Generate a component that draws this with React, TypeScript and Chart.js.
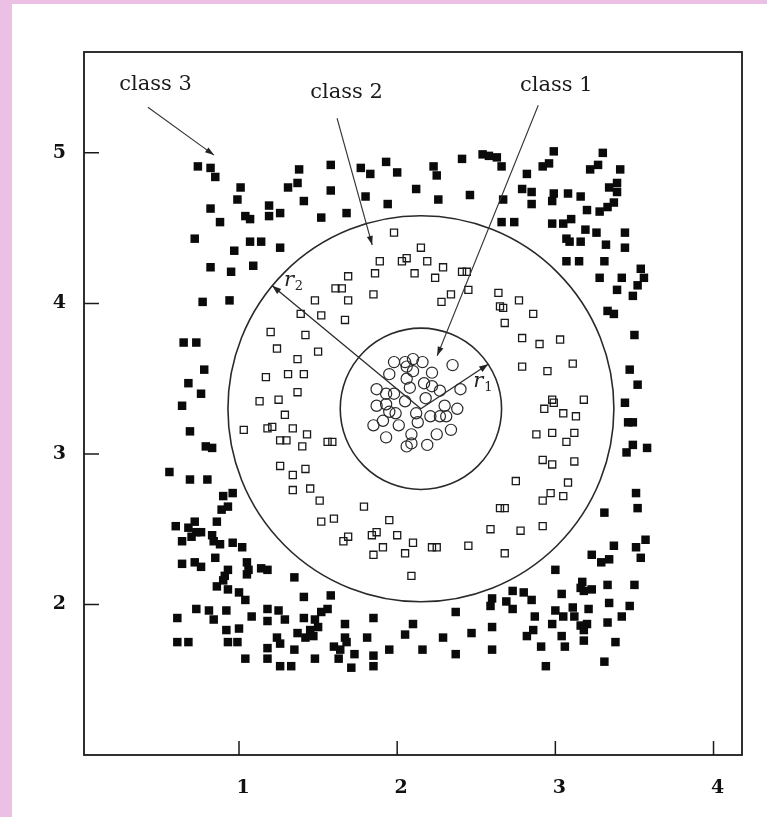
import React, { useEffect, useRef } from "react";
import { Chart, registerables } from "chart.js";

Chart.register(...registerables);

// ---------- data ----------
const xTickValues = [1, 2, 3, 4];
const yTickValues = [2, 3, 4, 5];

// class 1: open circles inside the inner ring
const class1: [number, number][] = [
  [1.98, 3.61], [2.06, 3.58], [2.10, 3.63], [2.16, 3.61], [2.05, 3.61], [2.10, 3.55], [2.35, 3.59],
  [1.95, 3.53], [2.22, 3.54], [2.06, 3.50], [2.17, 3.47], [2.22, 3.45], [2.08, 3.44], [1.87, 3.43],
  [1.93, 3.40], [1.98, 3.40], [2.27, 3.42], [2.40, 3.43], [2.18, 3.37], [2.05, 3.35], [1.87, 3.32],
  [1.93, 3.33], [2.30, 3.32], [2.38, 3.30], [1.95, 3.28], [1.99, 3.27], [2.12, 3.27], [2.21, 3.25],
  [2.27, 3.25], [2.31, 3.25], [1.85, 3.19], [1.91, 3.22], [2.01, 3.19], [2.13, 3.21], [2.34, 3.16],
  [2.25, 3.13], [1.93, 3.11], [2.09, 3.13], [2.09, 3.07], [2.06, 3.05], [2.19, 3.06],
];

// class 2: open squares in the annulus
const class2: [number, number][] = [
  [1.98, 4.47], [2.15, 4.37], [1.89, 4.28], [2.03, 4.28], [2.06, 4.30], [2.19, 4.28], [2.29, 4.24],
  [1.86, 4.20], [2.11, 4.20], [2.24, 4.17], [2.41, 4.21], [2.44, 4.21], [1.69, 4.18], [1.61, 4.10],
  [1.65, 4.10], [1.48, 4.02], [1.69, 4.02], [1.85, 4.06], [1.52, 3.92], [1.67, 3.89], [2.34, 4.06],
  [2.28, 4.01], [2.45, 4.09], [2.64, 4.07], [2.77, 4.02], [2.65, 3.98], [2.67, 3.97], [2.68, 3.87],
  [2.79, 3.77], [2.79, 3.58], [1.42, 3.79], [1.50, 3.68], [1.41, 3.53], [1.43, 3.13], [1.40, 3.05],
  [1.56, 3.08], [1.59, 3.08], [1.42, 2.90], [1.45, 2.77], [1.51, 2.69], [1.52, 2.55], [1.60, 2.57],
  [1.79, 2.65], [1.95, 2.56], [2.75, 2.82], [2.65, 2.64], [2.68, 2.64], [1.37, 3.41],
  [2.86, 3.93], [2.90, 3.73], [3.03, 3.76], [2.95, 3.55], [3.11, 3.60], [2.98, 3.36], [2.99, 3.34],
  [2.93, 3.30], [3.18, 3.36], [3.05, 3.27], [3.13, 3.25], [2.88, 3.13], [2.98, 3.14], [3.12, 3.14],
  [3.07, 3.08], [2.92, 2.96], [2.98, 2.93], [3.12, 2.95], [3.08, 2.81], [2.97, 2.74], [2.92, 2.69],
  [3.05, 2.72], [2.78, 2.49], [2.92, 2.52],
  [1.66, 2.42], [1.69, 2.45], [1.84, 2.46], [1.87, 2.48], [2.00, 2.46], [1.91, 2.38], [2.10, 2.41],
  [1.85, 2.33], [2.05, 2.34], [2.22, 2.38], [2.25, 2.38], [2.09, 2.19], [2.45, 2.39], [2.59, 2.50],
  [2.68, 2.34],
  [1.39, 3.93], [1.20, 3.81], [1.24, 3.70], [1.37, 3.63], [1.17, 3.51], [1.31, 3.53], [1.13, 3.35],
  [1.25, 3.36], [1.29, 3.26], [1.03, 3.16], [1.18, 3.17], [1.21, 3.18], [1.34, 3.17], [1.26, 3.09],
  [1.30, 3.09], [1.26, 2.92], [1.34, 2.86], [1.34, 2.76],
];

// class 3: filled squares outside the outer ring
const class3: [number, number][] = [
  [0.74, 4.91], [0.82, 4.90], [0.85, 4.84], [1.01, 4.77], [0.99, 4.69], [0.82, 4.63], [0.88, 4.54],
  [1.04, 4.58], [1.07, 4.56], [1.19, 4.65], [1.19, 4.58], [1.26, 4.60], [1.38, 4.89], [1.31, 4.77],
  [1.37, 4.80], [1.41, 4.68], [0.72, 4.43], [1.07, 4.41], [1.14, 4.41], [0.97, 4.35], [1.26, 4.37],
  [0.82, 4.24], [0.95, 4.21], [1.09, 4.25],
  [1.58, 4.92], [1.58, 4.75], [1.52, 4.57], [1.68, 4.60], [1.77, 4.90], [1.83, 4.86], [1.93, 4.94],
  [2.00, 4.87], [1.80, 4.71], [1.94, 4.66], [2.12, 4.76], [2.23, 4.91], [2.25, 4.85], [2.26, 4.69],
  [2.41, 4.96], [2.46, 4.72], [2.54, 4.99], [2.58, 4.98], [2.63, 4.97], [2.66, 4.91], [2.67, 4.69],
  [2.66, 4.54], [2.74, 4.54],
  [2.99, 5.01], [2.96, 4.93], [2.92, 4.91], [2.82, 4.86], [3.30, 5.00], [3.27, 4.92], [3.22, 4.89],
  [3.41, 4.89], [2.79, 4.76], [2.85, 4.74], [2.85, 4.66], [2.99, 4.73], [2.98, 4.68], [3.08, 4.73],
  [3.16, 4.71], [3.34, 4.77], [3.39, 4.80], [3.39, 4.74], [3.20, 4.62], [3.28, 4.61], [3.33, 4.64],
  [3.37, 4.67], [2.98, 4.53], [3.05, 4.53], [3.10, 4.56], [3.19, 4.49], [3.26, 4.47], [3.44, 4.47],
  [3.07, 4.43], [3.09, 4.41], [3.16, 4.41], [3.32, 4.39], [3.44, 4.37], [3.07, 4.28], [3.15, 4.28],
  [3.31, 4.28], [3.28, 4.17], [3.42, 4.17], [3.54, 4.23], [3.56, 4.17], [3.52, 4.12], [3.39, 4.09],
  [3.49, 4.05], [3.33, 3.95], [3.37, 3.93], [3.50, 3.79], [3.47, 3.56], [3.52, 3.46], [3.44, 3.34],
  [3.46, 3.21], [3.49, 3.21], [3.49, 3.06], [3.45, 3.01], [3.58, 3.04], [3.51, 2.74], [3.52, 2.64],
  [3.31, 2.61],
  [3.57, 2.43], [3.51, 2.38], [3.54, 2.31], [3.37, 2.39], [3.23, 2.33], [3.29, 2.28], [3.34, 2.30],
  [3.00, 2.23], [3.50, 2.13], [3.33, 2.13], [3.17, 2.15], [3.16, 2.11], [3.18, 2.09], [3.23, 2.10],
  [2.73, 2.09], [2.80, 2.08], [2.85, 2.03], [3.04, 2.07], [2.73, 1.97], [3.00, 1.96], [3.11, 1.98],
  [3.12, 1.92], [3.21, 1.97], [3.34, 2.01], [3.47, 1.99], [3.42, 1.92], [2.87, 1.92], [3.05, 1.92],
  [2.98, 1.87], [3.16, 1.86], [3.20, 1.87], [3.18, 1.83], [3.33, 1.88], [2.86, 1.83], [2.82, 1.79],
  [3.04, 1.79], [3.06, 1.72], [3.18, 1.76], [2.91, 1.72], [3.38, 1.75], [3.31, 1.62], [2.94, 1.59],
  [1.41, 2.05], [1.58, 2.06], [1.56, 1.97], [1.52, 1.95], [1.41, 1.91], [1.48, 1.90], [1.50, 1.85],
  [1.45, 1.83], [1.42, 1.78], [1.47, 1.79], [1.67, 1.87], [1.85, 1.91], [2.10, 1.87], [2.05, 1.80],
  [1.81, 1.78], [1.67, 1.78], [1.68, 1.75], [1.60, 1.72], [1.64, 1.70], [1.73, 1.67], [1.63, 1.64],
  [1.48, 1.64], [1.71, 1.58], [1.85, 1.66], [1.85, 1.59], [1.95, 1.70], [2.16, 1.70], [2.29, 1.78],
  [2.37, 1.95], [2.47, 1.81], [2.37, 1.67], [2.60, 2.04], [2.59, 1.99], [2.69, 2.02], [2.60, 1.85],
  [2.60, 1.70],
  [0.60, 2.52], [0.68, 2.51], [0.72, 2.55], [0.73, 2.48], [0.70, 2.45], [0.76, 2.48], [0.86, 2.55],
  [0.83, 2.46], [0.84, 2.42], [0.88, 2.40], [0.64, 2.42], [0.96, 2.41], [1.02, 2.38], [0.85, 2.31],
  [0.64, 2.27], [0.72, 2.28], [0.76, 2.25], [0.93, 2.23], [0.91, 2.19], [0.90, 2.16], [1.05, 2.28],
  [1.05, 2.20], [1.06, 2.23], [1.14, 2.24], [1.18, 2.23], [1.35, 2.18], [0.86, 2.12], [0.93, 2.10],
  [1.00, 2.08], [1.04, 2.03], [0.73, 1.97], [0.61, 1.91], [0.81, 1.96], [0.84, 1.90], [0.92, 1.96],
  [1.08, 1.92], [1.18, 1.97], [1.25, 1.96], [1.29, 1.90], [1.18, 1.89], [0.92, 1.83], [1.00, 1.84],
  [0.61, 1.75], [0.68, 1.75], [0.93, 1.75], [0.99, 1.75], [1.24, 1.78], [1.26, 1.74], [1.18, 1.71],
  [1.35, 1.70], [1.37, 1.81], [1.04, 1.64], [1.18, 1.64], [1.26, 1.59], [1.33, 1.59],
  [0.77, 4.01], [0.94, 4.02], [0.65, 3.74], [0.73, 3.74], [0.78, 3.56], [0.68, 3.47], [0.76, 3.40],
  [0.64, 3.32], [0.69, 3.15], [0.79, 3.05], [0.83, 3.04], [0.56, 2.88], [0.69, 2.83], [0.80, 2.83],
  [0.90, 2.72], [0.96, 2.74], [0.93, 2.65], [0.89, 2.63],
];

// rings (centre and radii in x-axis units)
const ringCenter: [number, number] = [2.15, 3.3];
const innerRadius = 0.51;
const outerRadius = 1.22;

// radius arrows: angle in degrees (counter-clockwise from +x), label anchor in data units
const radiusMarks = [
  { sub: "2", radius: outerRadius, angle: 140.4, label: [1.316, 4.149] as [number, number] },
  { sub: "1", radius: innerRadius, angle: 33.5, label: [2.513, 3.479] as [number, number] },
];

const classLabels = [
  { text: "class 3", at: [0.472, 5.456] as [number, number] },
  { text: "class 2", at: [1.68, 5.402] as [number, number] },
  { text: "class 1", at: [3.006, 5.449] as [number, number] },
];

const classArrows: { from: [number, number]; to: [number, number] }[] = [
  { from: [0.424, 5.303], to: [0.842, 4.985] },
  { from: [1.62, 5.23], to: [1.842, 4.388] },
  { from: [2.892, 5.316], to: [2.253, 3.652] },
];

// ---------- drawing helpers ----------
function arrowLine(ctx: CanvasRenderingContext2D, x1: number, y1: number, x2: number, y2: number, head = 9, hw = 3.2) {
  ctx.beginPath();
  ctx.moveTo(x1, y1);
  ctx.lineTo(x2, y2);
  ctx.stroke();
  const a = Math.atan2(y2 - y1, x2 - x1);
  const bx = x2 - head * Math.cos(a);
  const by = y2 - head * Math.sin(a);
  ctx.beginPath();
  ctx.moveTo(x2, y2);
  ctx.lineTo(bx + hw * Math.sin(a), by - hw * Math.cos(a));
  ctx.lineTo(bx - hw * Math.sin(a), by + hw * Math.cos(a));
  ctx.closePath();
  ctx.fill();
}

const annotationPlugin = {
  id: "figureAnnotations",
  afterDatasetsDraw(chart: any) {
    const { ctx, chartArea, scales } = chart;
    const xs = scales.x;
    const ys = scales.y;
    const px = (x: number) => xs.getPixelForValue(x);
    const py = (y: number) => ys.getPixelForValue(y);
    const cx = px(ringCenter[0]);
    const cy = py(ringCenter[1]);
    const rPix = (r: number) => Math.abs(px(ringCenter[0] + r) - cx);

    ctx.save();
    // rings
    ctx.strokeStyle = "#2a2a2a";
    ctx.lineWidth = 1.6;
    [innerRadius, outerRadius].forEach((r) => {
      ctx.beginPath();
      ctx.arc(cx, cy, rPix(r), 0, Math.PI * 2);
      ctx.stroke();
    });

    // radius arrows
    ctx.fillStyle = "#222";
    ctx.lineWidth = 1.3;
    radiusMarks.forEach((m) => {
      const a = (m.angle * Math.PI) / 180;
      const R = rPix(m.radius);
      arrowLine(ctx, cx, cy, cx + R * Math.cos(a), cy - R * Math.sin(a));
      const lx = px(m.label[0]);
      const ly = py(m.label[1]);
      ctx.font = 'italic 21px "DejaVu Serif"';
      ctx.textAlign = "center";
      ctx.textBaseline = "middle";
      ctx.fillText("r", lx, ly);
      ctx.font = '13px "DejaVu Serif"';
      ctx.fillText(m.sub, lx + 10, ly + 6);
    });

    // class labels and arrows
    ctx.lineWidth = 1.1;
    ctx.strokeStyle = "#333";
    ctx.fillStyle = "#222";
    classArrows.forEach((a) => {
      arrowLine(ctx, px(a.from[0]), py(a.from[1]), px(a.to[0]), py(a.to[1]), 9, 3);
    });
    ctx.font = '21px "DejaVu Serif"';
    ctx.textAlign = "center";
    ctx.textBaseline = "middle";
    ctx.fillStyle = "#1a1a1a";
    classLabels.forEach((l) => ctx.fillText(l.text, px(l.at[0]), py(l.at[1])));

    // frame and inward ticks
    ctx.strokeStyle = "#1a1a1a";
    ctx.lineWidth = 1.8;
    ctx.strokeRect(chartArea.left, chartArea.top, chartArea.right - chartArea.left, chartArea.bottom - chartArea.top);
    ctx.lineWidth = 1.5;
    ctx.beginPath();
    xTickValues.forEach((v) => {
      const x = px(v);
      ctx.moveTo(x, chartArea.bottom);
      ctx.lineTo(x, chartArea.bottom - 14);
    });
    yTickValues.forEach((v) => {
      const y = py(v);
      ctx.moveTo(chartArea.left, y);
      ctx.lineTo(chartArea.left + 15, y);
    });
    ctx.stroke();
    ctx.restore();
  },
};

export default function App() {
  const canvasRef = useRef<HTMLCanvasElement | null>(null);

  useEffect(() => {
    if (!canvasRef.current) return;
    const toPoints = (arr: [number, number][]) => arr.map(([x, y]) => ({ x, y }));
    const tickFont = { family: '"DejaVu Serif"', size: 19, weight: "bold" as const };
    const chart = new Chart(canvasRef.current, {
      type: "scatter",
      data: {
        datasets: [
          {
            label: "class 3",
            data: toPoints(class3),
            pointStyle: "rect",
            pointRadius: 6,
            backgroundColor: "#0a0a0a",
            borderColor: "#0a0a0a",
            borderWidth: 0,
          },
          {
            label: "class 2",
            data: toPoints(class2),
            pointStyle: "rect",
            pointRadius: 5,
            backgroundColor: "rgba(255,255,255,0)",
            borderColor: "#1a1a1a",
            borderWidth: 1.3,
          },
          {
            label: "class 1",
            data: toPoints(class1),
            pointStyle: "circle",
            pointRadius: 5.6,
            backgroundColor: "rgba(255,255,255,0)",
            borderColor: "#2a2a2a",
            borderWidth: 1.2,
          },
        ],
      },
      options: {
        animation: false,
        responsive: false,
        events: [],
        layout: { padding: { top: 48, right: 25, left: 0, bottom: 0 } },
        plugins: { legend: { display: false }, tooltip: { enabled: false } },
        scales: {
          x: {
            type: "linear",
            min: 0.02,
            max: 4.18,
            afterBuildTicks: (s: any) => {
              s.ticks = xTickValues.map((v) => ({ value: v }));
            },
            afterFit: (s: any) => {
              s.height = 62;
            },
            grid: { display: false, drawTicks: false },
            border: { display: false },
            ticks: {
              font: tickFont,
              color: "#111",
              padding: 22,
              labelOffset: 4,
              maxRotation: 0,
              autoSkip: false,
              callback: (v: any) => String(v),
            },
          },
          y: {
            type: "linear",
            min: 1.0,
            max: 5.67,
            afterBuildTicks: (s: any) => {
              s.ticks = yTickValues.map((v) => ({ value: v }));
            },
            afterFit: (s: any) => {
              s.width = 72;
            },
            grid: { display: false, drawTicks: false },
            border: { display: false },
            ticks: {
              font: tickFont,
              color: "#111",
              padding: 18,
              autoSkip: false,
              callback: (v: any) => String(v),
            },
          },
        },
      },
      plugins: [annotationPlugin],
    } as any);
    return () => chart.destroy();
  }, []);

  return (
    <div
      style={{
        position: "absolute",
        left: 0,
        top: 0,
        width: 767,
        height: 817,
        background: "#ecbfe5",
        overflow: "hidden",
      }}
    >
      <canvas
        ref={canvasRef}
        width={755}
        height={813}
        style={{ position: "absolute", left: 12, top: 4, width: 755, height: 813, background: "#ffffff", display: "block" }}
      />
    </div>
  );
}
